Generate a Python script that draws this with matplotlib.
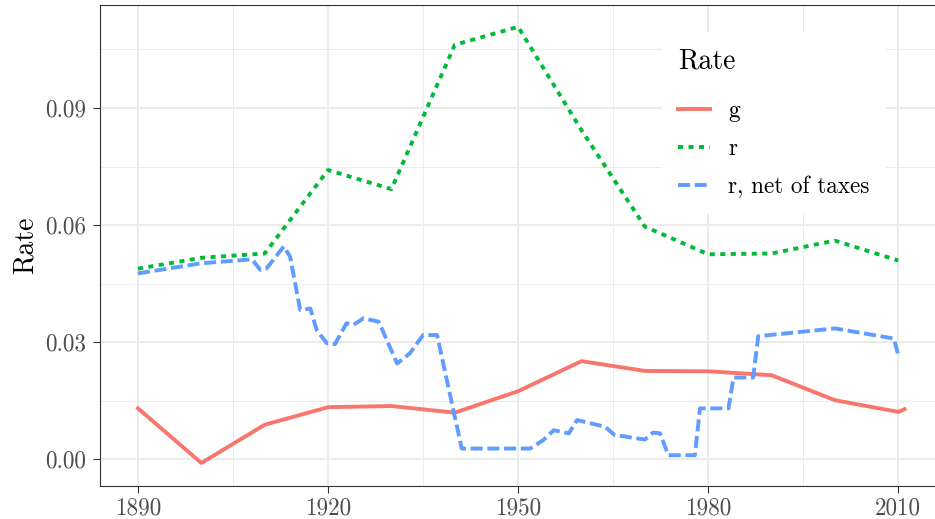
import matplotlib
matplotlib.use("Agg")
import matplotlib.pyplot as plt
from matplotlib.ticker import FixedLocator, FormatStrFormatter

plt.rcParams['font.family'] = ['cmr10', 'DejaVu Serif']
plt.rcParams['axes.unicode_minus'] = False
plt.rcParams['mathtext.fontset'] = 'cm'

# g: growth rate
years_g = [1890, 1900, 1910, 1920, 1930, 1940, 1950, 1960, 1970, 1980, 1990, 2000, 2010, 2011]
g = [0.0130, -0.0010, 0.0088, 0.0133, 0.0136, 0.0119, 0.0174, 0.0251, 0.0226, 0.0225,
     0.0215, 0.0151, 0.0121, 0.0128]

# r: return on capital
years_r = [1890, 1900, 1910, 1920, 1930, 1940, 1950, 1960, 1970, 1980, 1990, 2000, 2010]
r = [0.0488, 0.0516, 0.0527, 0.0741, 0.0692, 0.1062, 0.1108, 0.0843, 0.0596, 0.0525,
     0.0527, 0.0560, 0.0509]

# r, net of taxes
years_net = [1890, 1900, 1908, 1909.3, 1910.3, 1913, 1914, 1915.6, 1917.2, 1918.2, 1919.8,
             1921.1, 1922.9, 1924, 1925.6, 1928, 1930.9, 1932.9, 1935, 1937.2, 1941.1,
             1951.9, 1954, 1955.6, 1958, 1959.3, 1963.7, 1965.2, 1970, 1971.3, 1972.4,
             1973.7, 1977.9, 1978.7, 1983.2, 1984, 1987.1, 1987.9, 2000, 2009.3, 2010]
r_net = [0.0476, 0.0502, 0.0512, 0.0485, 0.0489, 0.0545, 0.0519, 0.0382, 0.0386, 0.0331,
         0.0297, 0.0295, 0.0348, 0.0344, 0.0361, 0.0352, 0.0245, 0.0271, 0.0318, 0.0318,
         0.0027, 0.0027, 0.0049, 0.0074, 0.0066, 0.0100, 0.0083, 0.0062, 0.0050, 0.0068,
         0.0066, 0.0010, 0.0010, 0.0130, 0.0130, 0.0209, 0.0209, 0.0315, 0.0335, 0.0309,
         0.0267]

x_major = [1890, 1920, 1950, 1980, 2010]
x_minor = [1905, 1935, 1965, 1995]
y_major = [0.00, 0.03, 0.06, 0.09]
y_minor = [0.015, 0.045, 0.075, 0.105]

fig = plt.figure(figsize=(9.35, 5.19), dpi=100)
ax = fig.add_axes([100 / 935, 33 / 519, 835 / 935, 481 / 519])

lw = 2.8
ax.plot(years_g, g, color='#F8766D', lw=lw, solid_joinstyle='round', label='g')
ax.plot(years_r, r, color='#00BA38', lw=lw, dashes=(1.3, 1.4), dash_capstyle='butt',
        dash_joinstyle='round', label='r')
ax.plot(years_net, r_net, color='#619CFF', lw=lw, dashes=(3.1, 1.2), dash_capstyle='butt',
        dash_joinstyle='round', label='r, net of taxes')

ax.set_xlim(1884.0, 2015.8)
ax.set_ylim(-0.0069, 0.1164)

ax.xaxis.set_major_locator(FixedLocator(x_major))
ax.xaxis.set_minor_locator(FixedLocator(x_minor))
ax.yaxis.set_major_locator(FixedLocator(y_major))
ax.yaxis.set_minor_locator(FixedLocator(y_minor))
ax.yaxis.set_major_formatter(FormatStrFormatter('%.2f'))

ax.grid(which='major', color='#EBEBEB', lw=1.4)
ax.grid(which='minor', color='#EBEBEB', lw=0.7)
ax.set_axisbelow(True)

for side in ['left', 'bottom', 'top']:
    ax.spines[side].set_color('#333333')
    ax.spines[side].set_linewidth(0.8)
ax.spines['right'].set_visible(False)

ax.tick_params(which='major', direction='out', length=5, width=0.8, color='#333333',
               labelcolor='#4D4D4D', labelsize=16.7, pad=5)
ax.tick_params(axis='x', which='major', pad=3)
ax.tick_params(which='minor', length=0)
ax.tick_params(top=False, right=False)

ax.set_ylabel('Rate', fontsize=20, labelpad=5)

leg = ax.legend(title='Rate', loc='upper left', bbox_to_anchor=(0.673, 0.944),
                fontsize=16.7, title_fontsize=20, frameon=True, fancybox=False,
                edgecolor='none', facecolor='white', framealpha=1,
                handlelength=1.35, handletextpad=0.8, labelspacing=0.68,
                borderpad=0.7, borderaxespad=0, alignment='left')
# wider gap between legend title and the keys
leg._legend_box.sep = 18.5

fig.savefig('out.png', dpi=100)
